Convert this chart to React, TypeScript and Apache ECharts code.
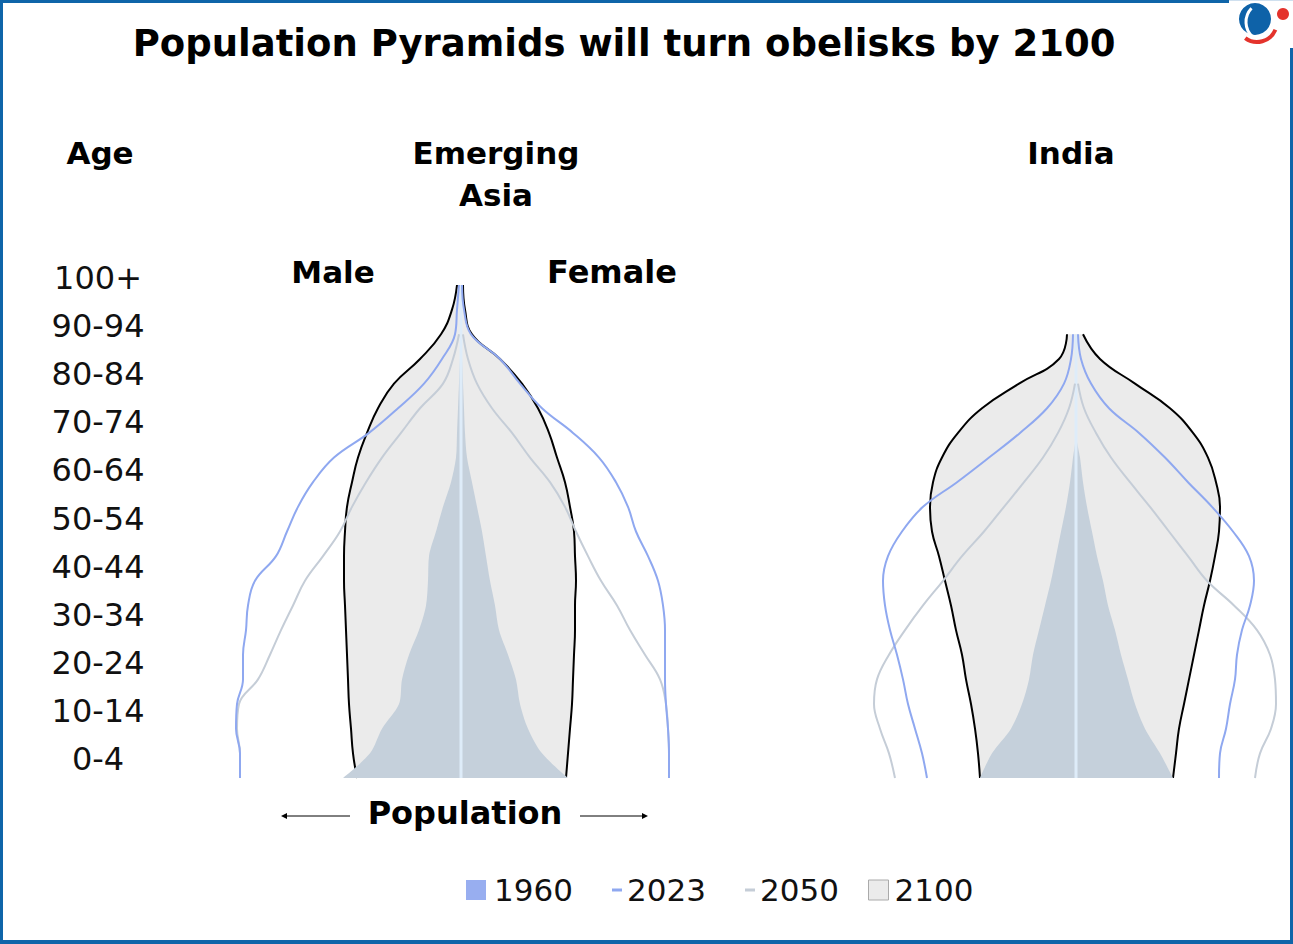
import { useEffect, useRef } from 'react';
import * as echarts from 'echarts';

const FONT = '"DejaVu Sans", Inter, sans-serif';

const ageGroups = ['0-4', '5-9', '10-14', '15-19', '20-24', '25-29', '30-34', '35-39', '40-44', '45-49', '50-54',
  '55-59', '60-64', '65-69', '70-74', '75-79', '80-84', '85-89', '90-94', '95-99', '100+'];

// Emerging Asia (relative population units)
const eaMale1960 = [118, 91, 79, 62, 59, 52, 42, 35, 33, 32, 25, 18, 10, 5, 4, 3, 2, 1, 0, 0, 0];
const eaFemale1960 = [107, 81, 67, 59, 55, 47, 38, 34, 29, 25, 21, 16, 11, 6, 4, 3, 2, 1, 0, 0, 0];
const eaMale2023 = [221, 221, 225, 224, 218, 218, 215, 213, 206, 185, 174, 163, 148, 127, 92, 63, 37, 19, 6, 4, 2];
const eaFemale2023 = [208, 208, 207, 205, 204, 204, 204, 202, 197, 187, 175, 167, 155, 138, 112, 81, 59, 39, 10, 3, 1];
const eaMale2050 = [221, 221, 224, 222, 203, 191, 180, 168, 156, 138, 121, 109, 95, 79, 60, 41, 18, 8, 2, null, null];
const eaFemale2050 = [208, 208, 207, 205, 199, 184, 169, 156, 140, 127, 115, 104, 89, 69, 51, 31, 16, 7, 2, null, null];
const eaMale2100 = [104, 108, 110, 112, 113, 114, 115, 116, 117, 117, 116, 114, 109, 103, 94, 83, 67, 41, 20, 9, 4];
const eaFemale2100 = [105, 107, 109, 111, 112, 113, 114, 114, 115, 114, 113, 109, 104, 96, 88, 77, 61, 39, 11, 4, 2];

// India
const inMale1960 = [96, 84, 65, 54, 47, 43, 37, 31, 25, 20, 15, 10, 6, 3, 0, 0, 0, 0, 0, null, null];
const inFemale1960 = [97, 84, 69, 59, 52, 45, 39, 32, 27, 21, 16, 11, 7, 4, 0, 0, 0, 0, 0, null, null];
const inMale2023 = [149, 154, 161, 168, 173, 179, 186, 191, 193, 188, 174, 153, 119, 87, 56, 29, 12, 5, 3, null, null];
const inFemale2023 = [143, 144, 150, 154, 159, 161, 166, 174, 178, 173, 157, 136, 112, 89, 63, 33, 15, 5, 2, null, null];
const inMale2050 = [181, 187, 196, 202, 199, 187, 171, 153, 133, 114, 92, 72, 52, 33, 18, 7, 1, null, null, null, null];
const inFemale2050 = [179, 184, 195, 200, 199, 194, 181, 158, 131, 112, 93, 74, 54, 35, 20, 8, 2, null, null, null, null];
const inMale2100 = [96, 98, 101, 105, 110, 114, 120, 125, 131, 137, 144, 146, 143, 134, 118, 94, 57, 17, 9, null, null];
const inFemale2100 = [97, 100, 103, 108, 113, 118, 123, 128, 134, 139, 143, 144, 140, 132, 117, 94, 59, 24, 7, null, null];
const eaCenter = ageGroups.map(() => 0);
const inCenter = ageGroups.map((_, i) => (i <= 18 ? 0 : null));

const legendYears = ['1960', '2023', '2050', '2100'];

const C1960 = '#c5d0db';
const C1960_LEG = '#98aef0';
const C2023 = '#8fa8f0';
const C2050 = '#c5cdd7';
const C2100 = '#ebebeb';
const CCENTER = '#deecf9';

function sideSeries(name: string, data: (number | null)[], sign: number, idx: number, kind: string) {
  const base: any = {
    type: 'line',
    name,
    xAxisIndex: idx,
    yAxisIndex: idx,
    data: data.map((v) => (v == null ? null : sign * v)),
    symbol: 'none',
    silent: true,
    connectNulls: false,
  };
  if (kind === '2100') {
    return { ...base, smooth: 0.45, z: 1, color: C2100, lineStyle: { color: '#000', width: 2 }, areaStyle: { color: C2100, opacity: 1 } };
  }
  if (kind === '1960') {
    return { ...base, smooth: 0.3, z: 2, color: C1960_LEG, lineStyle: { width: 0, color: C1960 }, areaStyle: { color: C1960, opacity: 1 } };
  }
  if (kind === 'center') {
    return { ...base, z: 3, lineStyle: { color: CCENTER, width: 3 } };
  }
  if (kind === '2050') {
    return { ...base, smooth: 0.4, z: 4, color: C2050, lineStyle: { color: C2050, width: 2 } };
  }
  return { ...base, smooth: 0.4, z: 5, color: C2023, lineStyle: { color: C2023, width: 2 } };
}

function text(t: string, x: number, y: number, size: number, bold: boolean) {
  return {
    type: 'text',
    x,
    y,
    style: {
      text: t,
      fontSize: size,
      fontWeight: bold ? 'bold' : 'normal',
      fontFamily: FONT,
      fill: '#000',
      align: 'center',
      verticalAlign: 'middle',
    },
  };
}

function legendFor(name: string, left: number, w: number, h: number, gap: number, itemStyle: any) {
  return {
    data: [{ name, icon: 'rect', itemStyle }],
    left,
    top: 874,
    itemWidth: w,
    itemHeight: h,
    padding: 0,
    selectedMode: false,
    textStyle: { fontSize: 31, lineHeight: 32, color: '#111', fontFamily: FONT, padding: [0, 0, 0, gap] },
  };
}

export default function App() {
  const ref = useRef<HTMLDivElement>(null);
  useEffect(() => {
    document.body.style.margin = '0';
    const chart = echarts.init(ref.current!, null, { renderer: 'svg' });
    const BLUE = '#0f65a9';
    const option: any = {
      animation: false,
      backgroundColor: '#fff',
      grid: [
        { left: 231, top: 285, width: 460, height: 493 },
        { left: 866, top: 285, width: 420, height: 493 },
        { left: 231, top: 278, width: 10, height: 481 },
      ],
      xAxis: [
        { gridIndex: 0, type: 'value', min: -230, max: 230, show: false },
        { gridIndex: 1, type: 'value', min: -210, max: 210, show: false },
        { gridIndex: 2, type: 'value', min: 0, max: 1, show: false },
      ],
      yAxis: [
        { gridIndex: 0, type: 'category', data: ageGroups, boundaryGap: false, show: false },
        { gridIndex: 1, type: 'category', data: ageGroups, boundaryGap: false, show: false },
        {
          gridIndex: 2,
          type: 'category',
          data: ageGroups,
          boundaryGap: false,
          axisLine: { show: false },
          axisTick: { show: false },
          splitLine: { show: false },
          axisLabel: { interval: 1, margin: 133, align: 'center', fontSize: 32, color: '#111', fontFamily: FONT },
        },
      ],
      legend: [
        legendFor('1960', 466, 20, 20, 3, { color: C1960_LEG, borderWidth: 0 }),
        legendFor('2023', 612, 10, 3, 0, { color: C2023, borderWidth: 0 }),
        legendFor('2050', 745, 10, 3, 0, { color: C2050, borderWidth: 0 }),
        legendFor('2100', 868, 20, 20, 1, { color: C2100, borderColor: '#aaaaaa', borderWidth: 1 }),
      ],
      series: [
        sideSeries(legendYears[3], eaMale2100, -1, 0, '2100'),
        sideSeries(legendYears[3], eaFemale2100, 1, 0, '2100'),
        sideSeries(legendYears[0], eaMale1960, -1, 0, '1960'),
        sideSeries(legendYears[0], eaFemale1960, 1, 0, '1960'),
        sideSeries('center', eaCenter, 1, 0, 'center'),
        sideSeries(legendYears[2], eaMale2050, -1, 0, '2050'),
        sideSeries(legendYears[2], eaFemale2050, 1, 0, '2050'),
        sideSeries(legendYears[1], eaMale2023, -1, 0, '2023'),
        sideSeries(legendYears[1], eaFemale2023, 1, 0, '2023'),
        sideSeries(legendYears[3], inMale2100, -1, 1, '2100'),
        sideSeries(legendYears[3], inFemale2100, 1, 1, '2100'),
        sideSeries(legendYears[0], inMale1960, -1, 1, '1960'),
        sideSeries(legendYears[0], inFemale1960, 1, 1, '1960'),
        sideSeries('center', inCenter, 1, 1, 'center'),
        sideSeries(legendYears[2], inMale2050, -1, 1, '2050'),
        sideSeries(legendYears[2], inFemale2050, 1, 1, '2050'),
        sideSeries(legendYears[1], inMale2023, -1, 1, '2023'),
        sideSeries(legendYears[1], inFemale2023, 1, 1, '2023'),
      ],
      graphic: [
        { type: 'rect', shape: { x: 0, y: 0, width: 3, height: 944 }, style: { fill: BLUE }, silent: true },
        { type: 'rect', shape: { x: 0, y: 940, width: 1293, height: 4 }, style: { fill: BLUE }, silent: true },
        { type: 'rect', shape: { x: 0, y: 0, width: 1229, height: 3 }, style: { fill: BLUE }, silent: true },
        { type: 'rect', shape: { x: 1229, y: 0, width: 64, height: 1 }, style: { fill: '#cfe0ef' }, silent: true },
        { type: 'rect', shape: { x: 1290, y: 48, width: 3, height: 896 }, style: { fill: BLUE }, silent: true },
        // logo
        { type: 'circle', shape: { cx: 1255, cy: 19, r: 16 }, style: { fill: '#0e62a8' }, silent: true },
        { type: 'arc', shape: { cx: 1266, cy: 22, r: 20, startAngle: 2.3, endAngle: 3.9 }, style: { stroke: '#fff', lineWidth: 3, fill: 'none' }, silent: true },
        { type: 'arc', shape: { cx: 1257, cy: 22, r: 20, startAngle: 0.4, endAngle: 2.2 }, style: { stroke: '#e4332c', lineWidth: 4, fill: 'none' }, silent: true },
        { type: 'circle', shape: { cx: 1283, cy: 14, r: 6 }, style: { fill: '#e4332c' }, silent: true },
        // texts
        text('Population Pyramids will turn obelisks by 2100', 624, 43, 37, true),
        text('Age', 100, 153, 31, true),
        text('Emerging', 496, 153, 31, true),
        text('Asia', 496, 195, 31, true),
        text('India', 1071, 153, 31, true),
        text('Male', 333, 272, 31, true),
        text('Female', 612, 272, 32, true),
        text('Population', 465, 813, 32, true),
        // arrows
        { type: 'line', shape: { x1: 350, y1: 816, x2: 285, y2: 816 }, style: { stroke: '#000', lineWidth: 1 }, silent: true },
        { type: 'polygon', shape: { points: [[281, 816], [287, 813], [287, 819]] }, style: { fill: '#000' }, silent: true },
        { type: 'line', shape: { x1: 580, y1: 816, x2: 644, y2: 816 }, style: { stroke: '#000', lineWidth: 1 }, silent: true },
        { type: 'polygon', shape: { points: [[648, 816], [642, 813], [642, 819]] }, style: { fill: '#000' }, silent: true },
      ],
    };
    chart.setOption(option);
    return () => chart.dispose();
  }, []);
  return <div ref={ref} style={{ width: 1293, height: 944 }} />;
}
